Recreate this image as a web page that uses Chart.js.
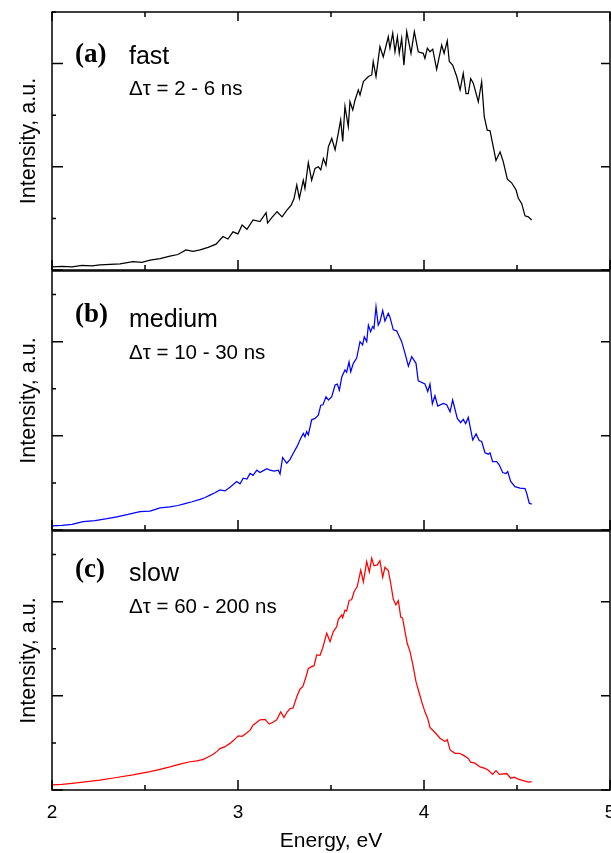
<!DOCTYPE html>
<html>
<head>
<meta charset="utf-8">
<script src="https://cdn.jsdelivr.net/npm/chart.js@4.4.1/dist/chart.umd.min.js"></script>
<style>
  html, body { margin: 0; padding: 0; background: #fff; }
  #wrap { position: relative; width: 611px; height: 853px; overflow: hidden; }
  #wrap canvas { position: absolute; left: 0; }
</style>
</head>
<body>
<div id="wrap">
  <canvas id="fast" width="611" height="271" style="top:0"></canvas>
  <canvas id="medium" width="611" height="261" style="top:270px"></canvas>
  <canvas id="slow" width="611" height="323" style="top:530px"></canvas>
</div>
<script>
// emission spectra for three delay windows
const panelTags = ['(a)', '(b)', '(c)'];
const panelNames = ['fast', 'medium', 'slow'];
const delayWindows = ['\u0394\u03c4 = 2 - 6 ns', '\u0394\u03c4 = 10 - 30 ns', '\u0394\u03c4 = 60 - 200 ns'];
const energyTicks = [2, 3, 4, 5];

const energyFast = [2.000,2.054,2.108,2.161,2.215,2.258,2.312,2.366,2.435,2.484,2.527,2.581,2.634,2.677,2.720,2.758,2.796,2.839,2.882,2.919,2.946,2.973,3.000,3.022,3.048,3.081,3.118,3.151,3.159,3.183,3.210,3.237,3.263,3.285,3.301,3.316,3.330,3.351,3.360,3.378,3.396,3.414,3.432,3.445,3.459,3.473,3.486,3.504,3.522,3.539,3.552,3.563,3.575,3.593,3.602,3.617,3.629,3.647,3.656,3.674,3.701,3.719,3.727,3.742,3.763,3.781,3.808,3.817,3.832,3.844,3.857,3.867,3.880,3.892,3.907,3.930,3.948,3.969,3.996,4.005,4.018,4.032,4.047,4.068,4.095,4.108,4.125,4.136,4.154,4.176,4.194,4.211,4.226,4.238,4.251,4.265,4.292,4.310,4.324,4.340,4.355,4.369,4.387,4.409,4.426,4.448,4.471,4.495,4.507,4.525,4.543,4.561,4.579];
const intensityFast = [0.06,0.07,0.06,0.09,0.08,0.10,0.11,0.12,0.16,0.15,0.19,0.22,0.27,0.30,0.39,0.36,0.39,0.44,0.50,0.65,0.60,0.74,0.70,0.87,0.79,0.97,0.94,1.11,0.91,1.02,1.13,1.03,1.16,1.25,1.38,1.65,1.39,1.74,1.58,2.08,1.74,1.97,2.00,1.94,2.16,2.03,2.39,2.55,2.33,2.65,2.91,2.49,3.17,2.78,3.26,3.10,3.29,3.49,3.39,3.65,3.75,3.78,4.04,3.75,4.33,4.13,4.52,4.30,4.59,4.23,4.52,4.20,4.49,3.97,4.62,4.20,4.62,4.23,4.20,4.10,4.30,4.23,4.28,3.89,4.36,4.20,4.44,4.04,3.97,3.75,3.49,3.81,3.42,3.42,3.71,3.62,3.26,3.65,2.97,2.71,2.70,2.45,2.12,2.29,2.10,1.76,1.69,1.55,1.39,1.29,1.05,1.03,0.97];

const energyMedium = [2.000,2.054,2.108,2.167,2.231,2.296,2.349,2.409,2.473,2.527,2.581,2.634,2.677,2.715,2.753,2.796,2.823,2.849,2.876,2.903,2.930,2.957,2.993,3.011,3.028,3.048,3.065,3.081,3.101,3.118,3.136,3.156,3.172,3.194,3.217,3.226,3.240,3.262,3.280,3.297,3.317,3.333,3.351,3.360,3.369,3.378,3.396,3.414,3.432,3.445,3.457,3.473,3.486,3.504,3.522,3.534,3.545,3.558,3.575,3.584,3.597,3.606,3.620,3.638,3.656,3.670,3.679,3.692,3.701,3.713,3.724,3.731,3.742,3.754,3.763,3.778,3.790,3.808,3.817,3.835,3.853,3.880,3.898,3.916,3.934,3.957,3.969,4.005,4.020,4.032,4.045,4.059,4.074,4.104,4.122,4.140,4.154,4.179,4.197,4.211,4.224,4.238,4.262,4.280,4.297,4.310,4.328,4.346,4.355,4.369,4.391,4.405,4.423,4.441,4.450,4.466,4.489,4.516,4.543,4.552,4.566,4.579];
const intensityMedium = [0.09,0.10,0.12,0.18,0.20,0.24,0.28,0.33,0.39,0.40,0.47,0.49,0.52,0.56,0.60,0.65,0.69,0.74,0.79,0.85,0.83,0.91,1.03,0.98,1.10,1.08,1.20,1.16,1.27,1.22,1.26,1.30,1.27,1.25,1.27,1.19,1.54,1.42,1.50,1.63,1.77,1.91,2.05,1.98,2.09,2.02,2.34,2.37,2.44,2.65,2.66,2.83,2.76,2.83,3.08,3.10,2.97,3.25,3.40,3.35,3.57,3.36,3.54,3.65,4.00,3.93,4.10,4.00,4.35,4.21,4.32,4.28,4.74,4.35,4.42,4.66,4.44,4.60,4.52,4.25,4.23,4.00,3.75,3.48,3.68,3.54,3.17,3.10,2.94,3.10,2.68,2.85,2.63,2.69,2.66,2.51,2.76,2.37,2.28,2.35,2.26,2.39,1.91,2.04,1.90,1.88,1.64,1.61,1.64,1.45,1.45,1.38,1.22,1.20,1.24,1.03,0.92,0.89,0.88,0.78,0.57,0.55];

const energySlow = [2.000,2.054,2.108,2.177,2.258,2.339,2.435,2.527,2.581,2.634,2.688,2.742,2.780,2.813,2.839,2.867,2.887,2.903,2.930,2.957,2.978,3.002,3.022,3.043,3.065,3.082,3.102,3.118,3.145,3.168,3.188,3.208,3.230,3.247,3.263,3.280,3.296,3.316,3.333,3.349,3.366,3.378,3.396,3.409,3.423,3.441,3.455,3.477,3.495,3.512,3.531,3.539,3.558,3.563,3.575,3.584,3.598,3.611,3.624,3.641,3.660,3.674,3.692,3.706,3.719,3.731,3.749,3.763,3.778,3.790,3.808,3.821,3.835,3.849,3.862,3.875,3.885,3.898,3.910,3.925,3.942,3.957,3.975,3.988,4.005,4.020,4.032,4.059,4.086,4.113,4.125,4.140,4.167,4.190,4.211,4.238,4.251,4.274,4.301,4.328,4.346,4.369,4.387,4.405,4.445,4.466,4.484,4.507,4.534,4.561,4.579];
const intensitySlow = [0.11,0.12,0.14,0.17,0.21,0.26,0.32,0.39,0.44,0.49,0.55,0.60,0.62,0.65,0.70,0.76,0.82,0.88,0.92,0.99,1.06,1.15,1.14,1.20,1.27,1.38,1.44,1.49,1.50,1.40,1.44,1.49,1.66,1.54,1.65,1.73,1.74,1.98,2.14,2.20,2.41,2.58,2.62,2.64,2.87,2.86,3.01,3.33,3.15,3.36,3.47,3.62,3.72,3.66,3.82,3.80,4.03,4.04,4.21,4.32,4.67,4.42,4.85,4.63,4.92,4.76,4.78,4.87,4.52,4.73,4.66,4.39,4.05,3.93,4.02,3.67,3.65,3.36,3.11,2.94,2.62,2.30,2.05,1.87,1.66,1.52,1.33,1.22,1.10,1.03,1.07,0.85,0.78,0.78,0.74,0.67,0.59,0.57,0.49,0.46,0.42,0.33,0.41,0.33,0.35,0.25,0.27,0.23,0.20,0.17,0.18];

function zip(xs, ys) {
  const n = Math.min(xs.length, ys.length);
  const out = [];
  for (let i = 0; i < n; i++) out.push({ x: xs[i], y: ys[i] });
  return out;
}

// box with inward ticks: x ticks on the bottom (and top for the first panel),
// y ticks on the left (major + minor) and right (major only)
const frameTicks = {
  id: 'frameTicks',
  afterDraw(chart, args, opts) {
    const { ctx, chartArea: a, scales: { x, y } } = chart;
    ctx.save();
    ctx.strokeStyle = '#000';
    ctx.lineWidth = 1.5;
    ctx.strokeRect(a.left, a.top, a.right - a.left, a.bottom - a.top);
    ctx.beginPath();
    x.ticks.forEach(t => {
      const px = x.getPixelForValue(t.value);
      const major = Number.isInteger(t.value);
      ctx.moveTo(px, a.bottom);
      ctx.lineTo(px, a.bottom - (major ? 10 : 5));
      if (opts.top) {
        ctx.moveTo(px, a.top);
        ctx.lineTo(px, a.top + (major ? 9 : 5));
      }
    });
    y.ticks.forEach(t => {
      if (!Number.isInteger(t.value)) return;
      const py = y.getPixelForValue(t.value);
      const major = t.value % 2 === 0;
      ctx.moveTo(a.left, py);
      ctx.lineTo(a.left + (major ? 11 : 4), py);
      if (major) {
        ctx.moveTo(a.right, py);
        ctx.lineTo(a.right - 9, py);
      }
    });
    ctx.stroke();
    ctx.restore();
  }
};

// panel letter, decay class and delay window
const panelText = {
  id: 'panelText',
  afterDraw(chart, args, opts) {
    const { ctx, chartArea: a } = chart;
    ctx.save();
    ctx.fillStyle = '#000';
    ctx.textBaseline = 'alphabetic';
    ctx.font = 'bold 27px "Liberation Serif"';
    ctx.fillText(opts.tag, 75, a.top + opts.dy[0]);
    ctx.font = '25px "Liberation Sans"';
    ctx.fillText(opts.name, 129, a.top + opts.dy[1]);
    ctx.font = '20.5px "Liberation Sans"';
    ctx.fillText(opts.window, 129, a.top + opts.dy[2]);
    ctx.restore();
  }
};

function makePanel(id, i, points, color, opt) {
  const last = i === 2;
  return new Chart(document.getElementById(id), {
    type: 'line',
    data: {
      datasets: [{
        data: points,
        borderColor: color,
        borderWidth: 1.25,
        pointRadius: 0,
        tension: 0,
        fill: false
      }]
    },
    options: {
      responsive: false,
      animation: false,
      layout: { padding: { top: opt.padTop, right: 1, left: 0, bottom: 0 } },
      plugins: {
        legend: { display: false },
        tooltip: { enabled: false },
        frameTicks: { top: i === 0 },
        panelText: { tag: panelTags[i], name: panelNames[i], window: delayWindows[i], dy: opt.dy }
      },
      scales: {
        x: {
          type: 'linear',
          min: 2,
          max: 5,
          grid: { display: false, drawTicks: false },
          border: { display: false },
          ticks: {
            display: last,
            stepSize: 0.5,
            autoSkip: false,
            maxRotation: 0,
            padding: 11,
            color: '#000',
            font: { family: 'Liberation Sans', size: 19 },
            callback: v => energyTicks.includes(v) ? String(v) : ''
          },
          title: {
            display: last,
            text: 'Energy, eV',
            color: '#000',
            font: { family: 'Liberation Sans', size: 21 },
            padding: { top: 0, bottom: -1 }
          },
          afterFit: s => { s.height = opt.xHeight; s.paddingLeft = 0; s.paddingRight = 0; }
        },
        y: {
          type: 'linear',
          min: 0,
          max: opt.yMax,
          grid: { display: false, drawTicks: false },
          border: { display: false },
          ticks: { display: false, stepSize: 1 },
          title: {
            display: true,
            text: 'Intensity, a.u.',
            color: '#000',
            font: { family: 'Liberation Sans', size: 21.5 },
            padding: { top: 16, bottom: 0 }
          },
          afterFit: s => { s.width = 52; }
        }
      }
    },
    plugins: [frameTicks, panelText]
  });
}

makePanel('fast', 0, zip(energyFast, intensityFast), '#000000',
  { padTop: 12, xHeight: 1, yMax: 5, dy: [50, 52, 83] });
makePanel('medium', 1, zip(energyMedium, intensityMedium), '#0000ff',
  { padTop: 1, xHeight: 1, yMax: 5.5, dy: [51, 56, 88] });
makePanel('slow', 2, zip(energySlow, intensitySlow), '#ff0000',
  { padTop: 1, xHeight: 63, yMax: 5.5, dy: [46, 50, 82] });
</script>
</body>
</html>
